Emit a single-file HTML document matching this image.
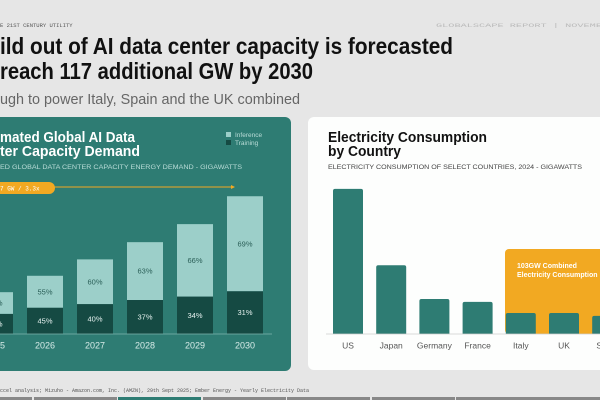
<!DOCTYPE html>
<html><head><meta charset="utf-8"><style>
html,body{margin:0;padding:0;background:#e6e6e6;}
svg{display:block;font-family:"Liberation Sans",sans-serif;}
</style></head><body>
<svg width="600" height="400" viewBox="0 0 600 400">
<rect x="0" y="0" width="600" height="400" fill="#e6e6e6"/>
<text x="0" y="27" font-family="Liberation Mono,monospace" font-size="5.5" fill="#555">E 21ST CENTURY UTILITY</text>
<text x="436" y="27" font-family="Liberation Mono,monospace" font-size="5.5" fill="#bbb" textLength="166" lengthAdjust="spacingAndGlyphs">GLOBALSCAPE REPORT | NOVEMB</text>
<text x="0" y="54" font-size="23" font-weight="bold" fill="#111" textLength="453" lengthAdjust="spacingAndGlyphs">ild out of AI data center capacity is forecasted</text>
<text x="0" y="79" font-size="23" font-weight="bold" fill="#111" textLength="313" lengthAdjust="spacingAndGlyphs">reach 117 additional GW by 2030</text>
<text x="0" y="104" font-size="15" fill="#666" textLength="300" lengthAdjust="spacingAndGlyphs">ugh to power Italy, Spain and the UK combined</text>

<rect x="-10" y="117" width="301" height="254" rx="6" fill="#2e7c73"/>
<text x="0" y="142" font-size="15" font-weight="bold" fill="#fff" textLength="135" lengthAdjust="spacingAndGlyphs">mated Global AI Data</text>
<text x="0" y="156" font-size="15" font-weight="bold" fill="#fff" textLength="140" lengthAdjust="spacingAndGlyphs">ter Capacity Demand</text>
<text x="0" y="169" font-size="6.2" fill="#b9dcd7" textLength="242" lengthAdjust="spacingAndGlyphs">ED GLOBAL DATA CENTER CAPACITY ENERGY DEMAND - GIGAWATTS</text>
<rect x="226" y="132" width="5" height="5" fill="#9ccfc9"/>
<text x="235" y="137" font-size="6.5" fill="#b9dcd7">Inference</text>
<rect x="226" y="140" width="5" height="5" fill="#154a43"/>
<text x="235" y="145" font-size="6.5" fill="#b9dcd7">Training</text>
<line x1="50" y1="187" x2="234" y2="187" stroke="#f2a922" stroke-width="1"/>
<path d="M231,185 L235,187 L231,189 Z" fill="#f2a922"/>
<rect x="-10" y="182" width="65" height="12" rx="6" fill="#f2a922"/>
<text x="0" y="190.5" font-family="Liberation Mono,monospace" font-size="6" fill="#fff">7 GW / 3.3x</text>
<g id="left-chart"></g>
<line x1="-10" y1="334" x2="272" y2="334" stroke="#7fb5ae" stroke-width="0.8"/>

<rect x="308" y="117" width="310" height="253" rx="6" fill="#fdfefd"/>
<text x="328" y="142" font-size="14.5" font-weight="bold" fill="#111" textLength="159" lengthAdjust="spacingAndGlyphs">Electricity Consumption</text>
<text x="328" y="156" font-size="14.5" font-weight="bold" fill="#111" textLength="73" lengthAdjust="spacingAndGlyphs">by Country</text>
<text x="328" y="169" font-size="6.2" fill="#444" textLength="254" lengthAdjust="spacingAndGlyphs">ELECTRICITY CONSUMPTION OF SELECT COUNTRIES, 2024 - GIGAWATTS</text>
<rect x="505" y="249" width="110" height="85" rx="4" fill="#f2a922"/>
<text x="517" y="268" font-size="7" font-weight="bold" fill="#fff">103GW Combined</text>
<text x="517" y="277" font-size="7" font-weight="bold" fill="#fff">Electricity Consumption</text>
<g id="right-chart"></g>
<line x1="326" y1="334" x2="610" y2="334" stroke="#ccc" stroke-width="0.8"/>

<text x="0" y="392" font-family="Liberation Mono,monospace" font-size="5" fill="#555">ccel analysis; Mizuho - Amazon.com, Inc. (AMZN), 29th Sept 2025; Ember Energy - Yearly Electricity Data</text>
<g>
<rect x="0" y="397" width="32" height="3" fill="#888"/>
<rect x="34" y="397" width="83" height="3" fill="#888"/>
<rect x="118" y="397" width="83" height="3" fill="#2e7c73"/>
<rect x="203" y="397" width="83" height="3" fill="#888"/>
<rect x="287" y="397" width="83" height="3" fill="#888"/>
<rect x="372" y="397" width="83" height="3" fill="#888"/>
<rect x="456" y="397" width="144" height="3" fill="#888"/>
</g>
</svg>
<script>
const years = ["2025","2026","2027","2028","2029","2030"];
const totalGW = [51, 71, 91, 112, 134, 168];
const trainingPct = [48, 45, 40, 37, 34, 31];
const countries = ["US","Japan","Germany","France","Italy","UK","Spain"];
const countryGW = [249, 118, 60, 55, 36, 36, 31];

const NS = "http://www.w3.org/2000/svg";
function mk(tag, attrs, parent){const e=document.createElementNS(NS,tag);for(const k in attrs)e.setAttribute(k,attrs[k]);parent.appendChild(e);return e;}

// left chart
const base = 334;
const lx = i => -23 + i*50;
const ly = v => v*0.82;
const lg = document.getElementById('left-chart');
years.forEach((yr,i)=>{
  const h = ly(totalGW[i]);
  const th = h*trainingPct[i]/100;
  const inf = mk('rect',{x:lx(i),y:base-h,width:36,height:h-th,fill:'#9ccfc9'},lg);
  
  
  const tr = mk('rect',{x:lx(i),y:base-th,width:36,height:th,fill:'#154a43'},lg);
  
  
  const t1 = mk('text',{x:lx(i)+18,y:base-th-(h-th)/2+2.5,'font-size':7.5,fill:'#2a5e57','text-anchor':'middle'},lg);
  t1.textContent=(100-trainingPct[i])+'%';
  
  
  const t2 = mk('text',{x:lx(i)+18,y:base-th/2+2.5,'font-size':7.5,fill:'#e6f2f0','text-anchor':'middle'},lg);
  t2.textContent=trainingPct[i]+'%';
  
  
  const yl = mk('text',{x:lx(i)+18,y:348.5,'font-size':9,fill:'#d8ece9','text-anchor':'middle'},lg);
  yl.textContent=yr;
  
  
});

// right chart
const rx = i => 333 + i*43.2;
const ry = v => v*0.583;
const rg = document.getElementById('right-chart');
countries.forEach((c,i)=>{
  const h = ry(countryGW[i]);
  const b = mk('path',{d:`M${rx(i)},${base} V${base-h+2} Q${rx(i)},${base-h} ${rx(i)+2},${base-h} H${rx(i)+28} Q${rx(i)+30},${base-h} ${rx(i)+30},${base-h+2} V${base} Z`,fill:'#2e7c73'},rg);
  
  
  const l = mk('text',{x:rx(i)+15,y:348.5,'font-size':8.5,fill:'#555','text-anchor':'middle'},rg);
  l.textContent=c;
  
  
});
</script>
</body></html>
